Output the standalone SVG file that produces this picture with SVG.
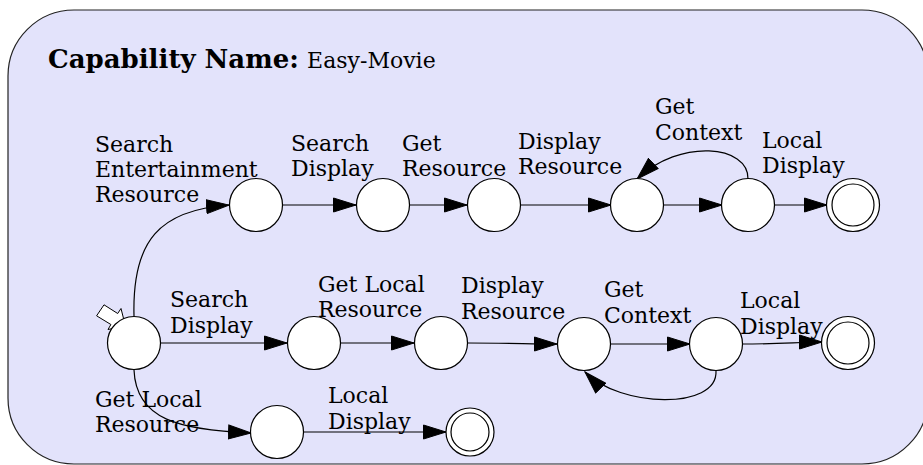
<svg xmlns="http://www.w3.org/2000/svg" width="923" height="465" viewBox="0 0 923 465">
<defs>
<marker id="ah" markerUnits="userSpaceOnUse" markerWidth="24" markerHeight="16" viewBox="0 0 23 16" refX="22.5" refY="8" orient="auto">
<path d="M0,1 L22.5,8 L0,15 z" fill="#000" stroke="#000" stroke-width="1"/>
</marker>
<style>
.st{fill:#fff;stroke:#000;stroke-width:1.2}
.ed{fill:none;stroke:#000;stroke-width:1.2;marker-end:url(#ah)}
.lb{font-family:"DejaVu Serif",serif;font-size:22px;fill:#000}
</style>
</defs>
<rect x="8" y="10" width="920" height="454" rx="66" ry="66" fill="#e3e3fb" stroke="#222" stroke-width="1.2"/>
<text x="48" y="68" font-family="DejaVu Serif, serif" font-size="26" fill="#000"><tspan font-weight="bold">Capability Name:</tspan> <tspan font-size="22">Easy-Movie</tspan></text>

<g id="connectors">
<path class="ed" d="M134,316 C132,240 160,210 229,205"/>
<path class="ed" d="M283,205 L356,205"/>
<path class="ed" d="M410,205 L467,205"/>
<path class="ed" d="M521,205 L611,205"/>
<path class="ed" d="M664,205 L722,205"/>
<path class="ed" d="M775,205 L827,205"/>
<path class="ed" d="M748,179 C749,145 680,138 637,179"/>
<path class="ed" d="M161,343 L287,343"/>
<path class="ed" d="M341,343 L414,343"/>
<path class="ed" d="M468,343 C510,343 530,344 557,344"/>
<path class="ed" d="M611,344 L690,344"/>
<path class="ed" d="M742,344 C780,344 800,342 822,342"/>
<path class="ed" d="M716,371 C718,410 620,408 585,372"/>
<path class="ed" d="M134,370 C136,420 180,430 251,433"/>
<path class="ed" d="M303,432 L446,432"/>
</g>

<g id="labels">
<text class="lb" x="95" y="152">Search</text>
<text class="lb" x="95" y="177">Entertainment</text>
<text class="lb" x="95" y="202">Resource</text>
<text class="lb" x="291" y="151">Search</text>
<text class="lb" x="291" y="176">Display</text>
<text class="lb" x="402" y="151">Get</text>
<text class="lb" x="402" y="176">Resource</text>
<text class="lb" x="518" y="149">Display</text>
<text class="lb" x="518" y="174">Resource</text>
<text class="lb" x="655" y="114">Get</text>
<text class="lb" x="655" y="140">Context</text>
<text class="lb" x="762" y="148">Local</text>
<text class="lb" x="762" y="173">Display</text>
<text class="lb" x="170" y="307">Search</text>
<text class="lb" x="170" y="333">Display</text>
<text class="lb" x="318" y="292">Get Local</text>
<text class="lb" x="318" y="317">Resource</text>
<text class="lb" x="461" y="293">Display</text>
<text class="lb" x="461" y="319">Resource</text>
<text class="lb" x="604" y="297">Get</text>
<text class="lb" x="604" y="323">Context</text>
<text class="lb" x="740" y="308">Local</text>
<text class="lb" x="740" y="334">Display</text>
<text class="lb" x="95" y="407">Get Local</text>
<text class="lb" x="95" y="432">Resource</text>
<text class="lb" x="328" y="403">Local</text>
<text class="lb" x="328" y="429">Display</text>
</g>

<g id="start">
<polygon points="104,304.8 117.7,313.5 121,308.5 125.4,325.9 108,329.5 110.9,324.5 96.6,315.8" fill="#fff" stroke="#000" stroke-width="1"/>
<circle class="st" cx="134" cy="343" r="26.5"/>
</g>
<g id="a1"><circle class="st" cx="256" cy="205" r="26.5"/></g>
<g id="a2"><circle class="st" cx="383" cy="205" r="26.5"/></g>
<g id="a3"><circle class="st" cx="494" cy="205" r="26.5"/></g>
<g id="a4"><circle class="st" cx="637" cy="205" r="26.5"/></g>
<g id="a5"><circle class="st" cx="748" cy="205" r="26.5"/></g>
<g id="a6"><circle class="st" cx="853" cy="205" r="26.5"/><circle class="st" cx="853" cy="205" r="21"/></g>
<g id="b1"><circle class="st" cx="314" cy="343" r="26.5"/></g>
<g id="b2"><circle class="st" cx="441" cy="343" r="26.5"/></g>
<g id="b3"><circle class="st" cx="584" cy="344" r="26.5"/></g>
<g id="b4"><circle class="st" cx="716" cy="344" r="26.5"/></g>
<g id="b5"><circle class="st" cx="848" cy="343" r="26.5"/><circle class="st" cx="848" cy="343" r="21"/></g>
<g id="c1"><circle class="st" cx="277" cy="432" r="26.5"/></g>
<g id="c2"><circle class="st" cx="470" cy="432" r="24"/><circle class="st" cx="470" cy="432" r="19"/></g>
</svg>
